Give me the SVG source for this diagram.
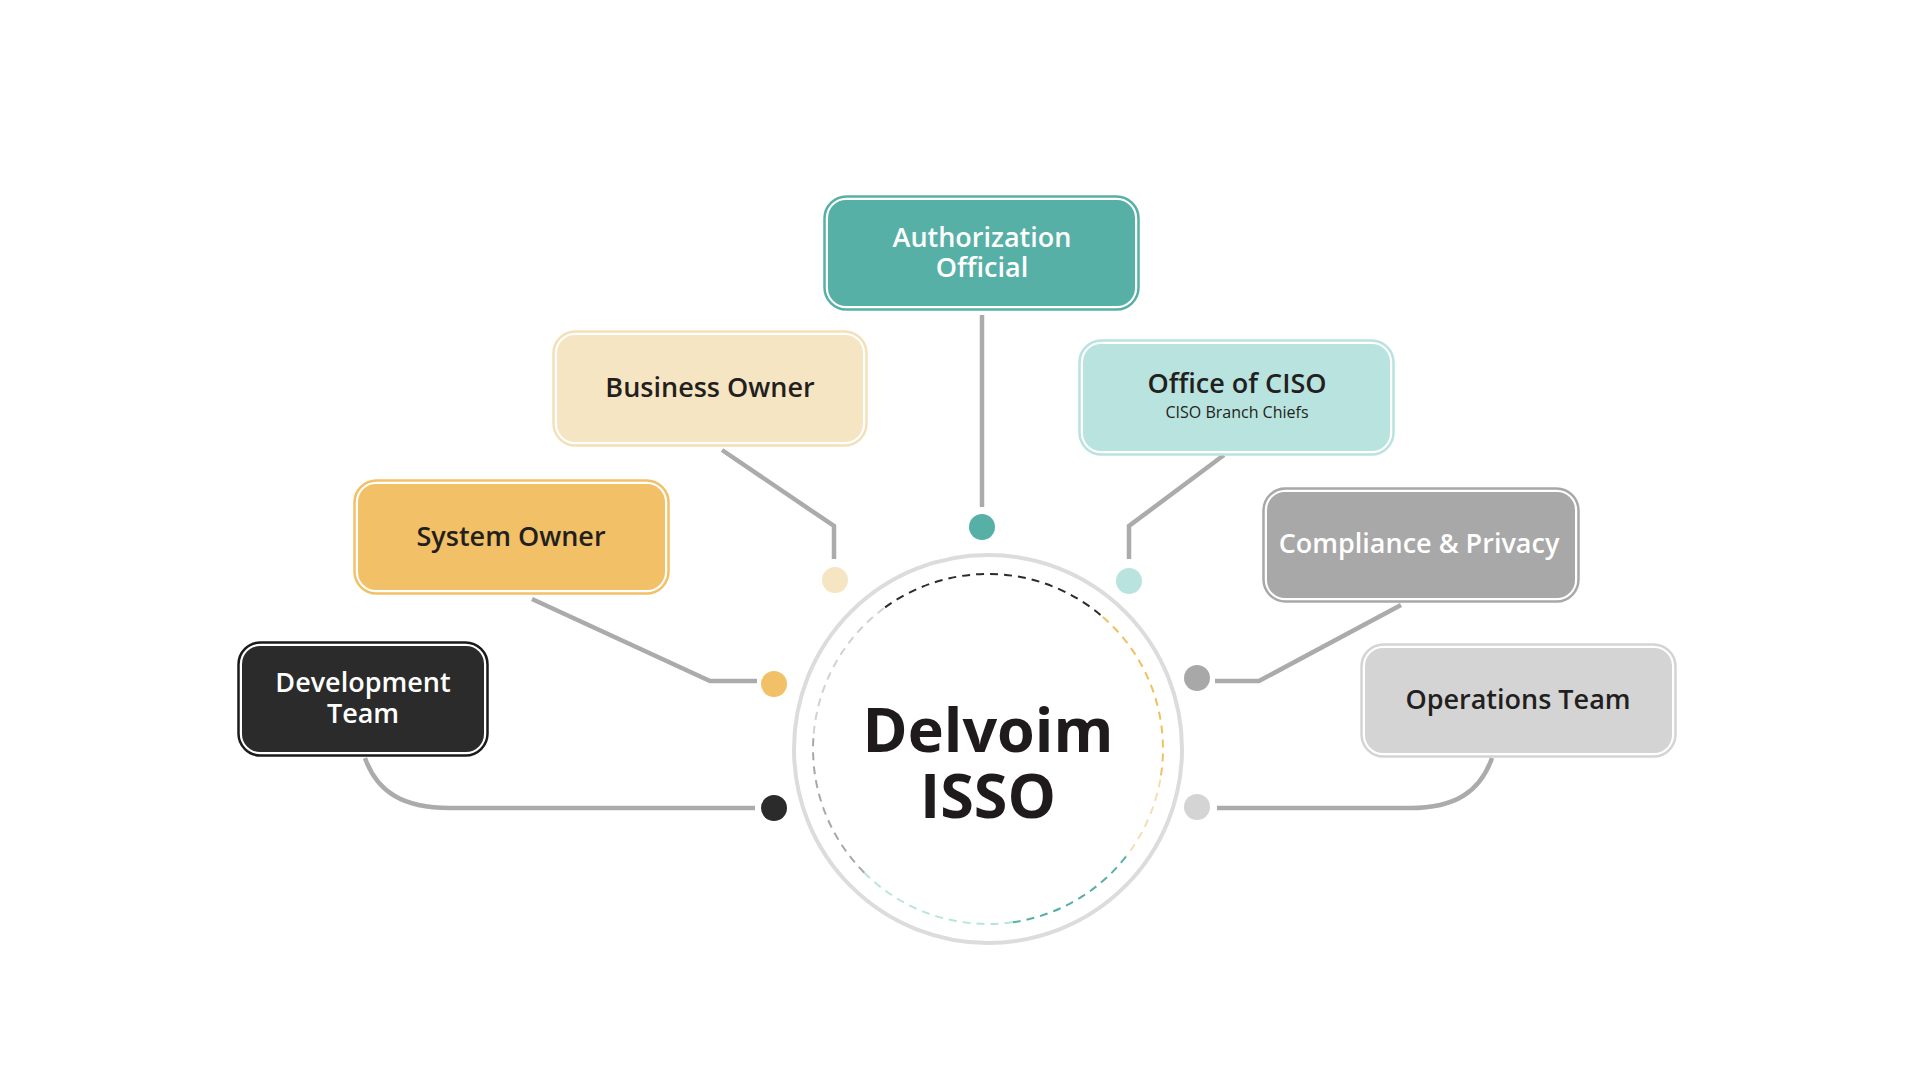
<svg xmlns="http://www.w3.org/2000/svg" width="1920" height="1080" viewBox="0 0 1920 1080">
<style>
.lbl{font-family:"Open Sans","Liberation Sans",sans-serif;font-weight:600;font-size:27px;text-anchor:middle;fill:#231f20}
.w{fill:#ffffff}
.sub{font-family:"Open Sans","Liberation Sans",sans-serif;font-weight:400;font-size:16px;text-anchor:middle;fill:#231f20}
.title{font-family:"Open Sans","Liberation Sans",sans-serif;font-weight:700;font-size:61px;text-anchor:middle;fill:#1f1b1c}
.conn{fill:none;stroke:#ababab;stroke-width:4.5}
.outer{fill:#ffffff;stroke-width:2.5}
.ring{fill:none;stroke-width:2;stroke-dasharray:8 6}
</style>
<rect width="1920" height="1080" fill="#ffffff"/>

<g id="connectors">
<path class="conn" d="M982,315 L982,507"/>
<path class="conn" d="M722,450 L834,526 L834,559"/>
<path class="conn" d="M1224,455 L1129,526 L1129,559"/>
<path class="conn" d="M532,599 L710,681 L757,681"/>
<path class="conn" d="M1401,605 L1259,681 L1215,681"/>
<path class="conn" d="M365,758 C377,792 403,808 450,808 L755,808"/>
<path class="conn" d="M1492,758 C1480,792 1455,808 1410,808 L1217,808"/>
<circle cx="982" cy="527" r="13" fill="#57b0a6"/>
<circle cx="835" cy="580" r="13" fill="#f6e5c3"/>
<circle cx="1129" cy="581" r="13" fill="#b9e3de"/>
<circle cx="774" cy="684" r="13" fill="#f2c066"/>
<circle cx="774" cy="808" r="13" fill="#2b2b2b"/>
<circle cx="1197" cy="678" r="13" fill="#a8a8a8"/>
<circle cx="1197" cy="807" r="13" fill="#d4d4d4"/>
</g>

<g id="center">
<circle cx="988" cy="749" r="194" fill="#ffffff" stroke="#dcdcdc" stroke-width="4"/>
<path class="ring" stroke="#2b2b2b" d="M885.1,607.4 A175,175 0 0 1 1102.8,616.9"/>
<path class="ring" stroke="#f0c060" d="M1102.8,616.9 A175,175 0 0 1 1160.3,779.4"/>
<path class="ring" stroke="#f3dfb0" d="M1160.3,779.4 A175,175 0 0 1 1125.9,856.7"/>
<path class="ring" stroke="#57b0a6" d="M1125.9,856.7 A175,175 0 0 1 1012.4,922.3"/>
<path class="ring" stroke="#b9e3de" d="M1012.4,922.3 A175,175 0 0 1 864.3,872.7"/>
<path class="ring" stroke="#a8a8a8" d="M864.3,872.7 A175,175 0 0 1 813.7,733.7"/>
<path class="ring" stroke="#d2d2d2" d="M813.7,733.7 A175,175 0 0 1 885.1,607.4"/>
<text class="title" x="988" y="752">Delvoim<tspan x="988" dy="66">ISSO</tspan></text>
</g>

<g id="authorization-official">
<rect class="outer" x="824.5" y="196.5" width="314" height="113" rx="22" stroke="#57b0a6"/>
<rect x="828" y="200" width="307" height="106" rx="18" fill="#57b0a6"/>
<text class="lbl w" x="982" y="247">Authorization<tspan x="982" dy="30">Official</tspan></text>
</g>

<g id="business-owner">
<rect class="outer" x="553.5" y="331.5" width="313" height="114" rx="22" stroke="#f3e0b8"/>
<rect x="557" y="335" width="306" height="107" rx="18" fill="#f6e5c3"/>
<text class="lbl" x="710" y="397">Business Owner</text>
</g>

<g id="office-of-ciso">
<rect class="outer" x="1079.5" y="340.5" width="314" height="114" rx="22" stroke="#b9e3de"/>
<rect x="1083" y="344" width="307" height="107" rx="18" fill="#b9e3de"/>
<text class="lbl" x="1237" y="393">Office of CISO</text>
<text class="sub" x="1237" y="418">CISO Branch Chiefs</text>
</g>

<g id="system-owner">
<rect class="outer" x="354.5" y="480.5" width="314" height="113" rx="22" stroke="#f2c066"/>
<rect x="358" y="484" width="307" height="106" rx="18" fill="#f2c066"/>
<text class="lbl" x="511" y="546">System Owner</text>
</g>

<g id="compliance-privacy">
<rect class="outer" x="1263.5" y="488.5" width="315" height="113" rx="22" stroke="#a8a8a8"/>
<rect x="1267" y="492" width="308" height="106" rx="18" fill="#a8a8a8"/>
<text class="lbl w" x="1419" y="553">Compliance &amp; Privacy</text>
</g>

<g id="development-team">
<rect class="outer" x="238.5" y="642.5" width="249" height="113" rx="22" stroke="#1a1a1a"/>
<rect x="242" y="646" width="242" height="106" rx="18" fill="#2b2b2b"/>
<text class="lbl w" x="363" y="692">Development<tspan x="363" dy="31">Team</tspan></text>
</g>

<g id="operations-team">
<rect class="outer" x="1361.5" y="644.5" width="314" height="112" rx="22" stroke="#d4d4d4"/>
<rect x="1365" y="648" width="307" height="105" rx="18" fill="#d4d4d4"/>
<text class="lbl" x="1518" y="709">Operations Team</text>
</g>
</svg>
